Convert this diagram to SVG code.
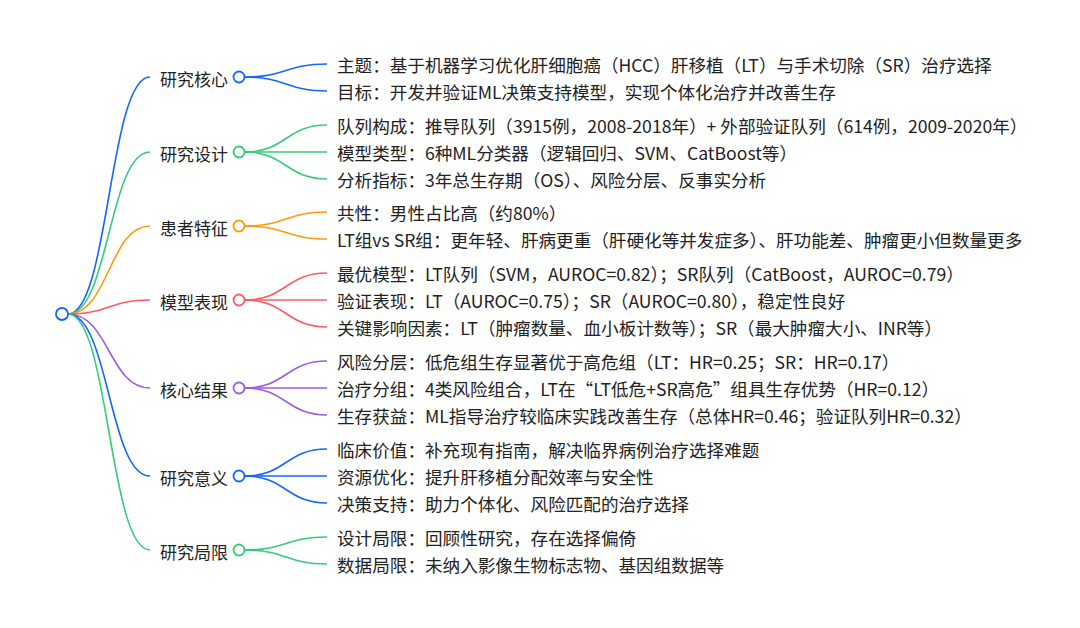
<svg xmlns="http://www.w3.org/2000/svg" width="1080" height="628" viewBox="0 0 1080 628">
<style>
text{font-family:"Noto Sans CJK SC","Noto Sans",sans-serif;font-size:17px;fill:#222;dominant-baseline:central}
.c text{font-size:17.6px}
path{fill:none;stroke-width:1.6}
circle{fill:#fff;stroke-width:1.8}
.b{stroke:#1565ff}.g{stroke:#33cc77}.o{stroke:#ff9a0a}.r{stroke:#ff5a5f}.p{stroke:#9c5ce4}
</style>
<rect width="1080" height="628" fill="#fff"/>
<g id="connectors">
<path class="b" d="M68 314C109 314 109 77 150 77"/>
<path class="g" d="M68 314C109 314 109 152 150 152"/>
<path class="o" d="M68 314C109 314 109 226 150 226"/>
<path class="r" d="M68 314C109 314 109 300 150 300"/>
<path class="p" d="M68 314C109 314 109 388 150 388"/>
<path class="b" d="M68 314C109 314 109 476 150 476"/>
<path class="g" d="M68 314C109 314 109 550 150 550"/>
<path class="b" d="M245 77C286 77 286 64 327 64"/>
<path class="b" d="M245 77C286 77 286 91 327 91"/>
<path class="g" d="M245 152C286 152 286 125 327 125"/>
<path class="g" d="M245 152L327 152"/>
<path class="g" d="M245 152C286 152 286 179 327 179"/>
<path class="o" d="M245 226C286 226 286 212 327 212"/>
<path class="o" d="M245 226C286 226 286 239 327 239"/>
<path class="r" d="M245 300C286 300 286 273 327 273"/>
<path class="r" d="M245 300L327 300"/>
<path class="r" d="M245 300C286 300 286 327 327 327"/>
<path class="p" d="M245 388C286 388 286 361 327 361"/>
<path class="p" d="M245 388L327 388"/>
<path class="p" d="M245 388C286 388 286 415 327 415"/>
<path class="b" d="M245 476C286 476 286 449 327 449"/>
<path class="b" d="M245 476L327 476"/>
<path class="b" d="M245 476C286 476 286 503 327 503"/>
<path class="g" d="M245 550C286 550 286 537 327 537"/>
<path class="g" d="M245 550C286 550 286 564 327 564"/>
</g>
<g id="root"><circle class="b" cx="62" cy="314" r="6"/></g>
<g id="n1"><text x="160" y="78">研究核心</text><circle class="b" cx="239" cy="77" r="5.5"/></g>
<g id="n2"><text x="160" y="153">研究设计</text><circle class="g" cx="239" cy="152" r="5.5"/></g>
<g id="n3"><text x="160" y="227">患者特征</text><circle class="o" cx="239" cy="226" r="5.5"/></g>
<g id="n4"><text x="160" y="301">模型表现</text><circle class="r" cx="239" cy="300" r="5.5"/></g>
<g id="n5"><text x="160" y="389">核心结果</text><circle class="p" cx="239" cy="388" r="5.5"/></g>
<g id="n6"><text x="160" y="477">研究意义</text><circle class="b" cx="239" cy="476" r="5.5"/></g>
<g id="n7"><text x="160" y="551">研究局限</text><circle class="g" cx="239" cy="550" r="5.5"/></g>
<g class="c">
<g id="n1c1"><text x="337" y="64">主题：基于机器学习优化肝细胞癌（HCC）肝移植（LT）与手术切除（SR）治疗选择</text></g>
<g id="n1c2"><text x="337" y="91">目标：开发并验证ML决策支持模型，实现个体化治疗并改善生存</text></g>
<g id="n2c1"><text x="337" y="125">队列构成：推导队列（3915例，2008-2018年）+ 外部验证队列（614例，2009-2020年）</text></g>
<g id="n2c2"><text x="337" y="152">模型类型：6种ML分类器（逻辑回归、SVM、CatBoost等）</text></g>
<g id="n2c3"><text x="337" y="179">分析指标：3年总生存期（OS）、风险分层、反事实分析</text></g>
<g id="n3c1"><text x="337" y="212">共性：男性占比高（约80%）</text></g>
<g id="n3c2"><text x="337" y="239">LT组vs SR组：更年轻、肝病更重（肝硬化等并发症多）、肝功能差、肿瘤更小但数量更多</text></g>
<g id="n4c1"><text x="337" y="273">最优模型：LT队列（SVM，AUROC=0.82）；SR队列（CatBoost，AUROC=0.79）</text></g>
<g id="n4c2"><text x="337" y="300">验证表现：LT（AUROC=0.75）；SR（AUROC=0.80），稳定性良好</text></g>
<g id="n4c3"><text x="337" y="327">关键影响因素：LT（肿瘤数量、血小板计数等）；SR（最大肿瘤大小、INR等）</text></g>
<g id="n5c1"><text x="337" y="361">风险分层：低危组生存显著优于高危组（LT：HR=0.25；SR：HR=0.17）</text></g>
<g id="n5c2"><text x="337" y="388">治疗分组：4类风险组合，LT在“LT低危+SR高危”组具生存优势（HR=0.12）</text></g>
<g id="n5c3"><text x="337" y="415">生存获益：ML指导治疗较临床实践改善生存（总体HR=0.46；验证队列HR=0.32）</text></g>
<g id="n6c1"><text x="337" y="449">临床价值：补充现有指南，解决临界病例治疗选择难题</text></g>
<g id="n6c2"><text x="337" y="476">资源优化：提升肝移植分配效率与安全性</text></g>
<g id="n6c3"><text x="337" y="503">决策支持：助力个体化、风险匹配的治疗选择</text></g>
<g id="n7c1"><text x="337" y="537">设计局限：回顾性研究，存在选择偏倚</text></g>
<g id="n7c2"><text x="337" y="564">数据局限：未纳入影像生物标志物、基因组数据等</text></g>
</g>
</svg>
